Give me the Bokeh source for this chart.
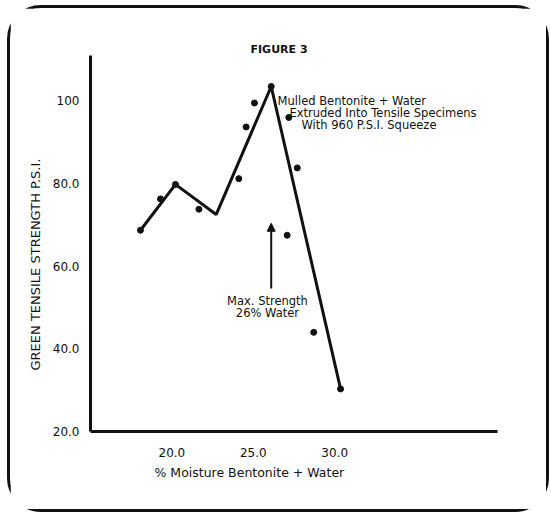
from bokeh.plotting import figure
from bokeh.models import Range1d, FixedTicker, Label, Arrow, NormalHead, Title
from bokeh.embed import file_html
from bokeh.resources import INLINE

# ---- data ----
line_x = [18.07, 20.22, 22.72, 26.10, 30.36]
line_y = [68.7, 79.8, 72.5, 103.5, 30.3]

point_x = [18.07, 19.30, 20.22, 21.66, 24.11, 24.56, 25.07, 26.10, 27.18, 27.08, 27.70, 28.71, 30.36]
point_y = [68.7, 76.3, 79.8, 73.8, 81.2, 93.7, 99.5, 103.5, 96.0, 67.5, 83.8, 44.0, 30.3]

x_ticks = [20, 25, 30]
x_tick_labels = ["20.0", "25.0", "30.0"]
y_ticks = [20, 40, 60, 80, 100]
y_tick_labels = ["20.0", "40.0", "60.0", "80.0", "100"]

title_text = "FIGURE 3"
x_label = "% Moisture Bentonite + Water"
y_label = "GREEN TENSILE STRENGTH P.S.I."
note_lines = ["Mulled Bentonite + Water", "Extruded Into Tensile Specimens", "With 960 P.S.I. Squeeze"]
max_lines = ["Max. Strength", "26% Water"]

FONT = "DejaVu Sans"
INK = "#111111"

p = figure(width=542, height=507,
           x_range=Range1d(15, 40), y_range=Range1d(20, 111),
           output_backend="svg", toolbar_location=None,
           min_border_left=80, min_border_right=55,
           min_border_top=47, min_border_bottom=84,
           styles={"position": "absolute", "left": "7px", "top": "5px",
                   "border": "3px solid #111", "border-radius": "34px"})
p.outline_line_color = None
p.xgrid.visible = False
p.ygrid.visible = False
p.background_fill_color = "white"
p.border_fill_color = "white"

p.title.text = title_text
p.title.align = "left"
p.title.offset = 160
p.title.standoff = -1
p.title.text_font = FONT
p.title.text_font_size = "11px"
p.title.text_font_style = "bold"
p.title.text_color = INK

for ax in (p.xaxis[0], p.yaxis[0]):
    ax.axis_line_width = 3
    ax.axis_line_color = INK
    ax.major_tick_line_color = None
    ax.minor_tick_line_color = None
    ax.major_label_text_font = FONT
    ax.major_label_text_font_size = "12px"
    ax.major_label_text_color = INK

p.xaxis.ticker = FixedTicker(ticks=x_ticks)
p.xaxis.major_label_overrides = {t: l for t, l in zip(x_ticks, x_tick_labels)}
p.xaxis.major_label_standoff = 10
p.yaxis.ticker = FixedTicker(ticks=y_ticks)
p.yaxis.major_label_overrides = {t: l for t, l in zip(y_ticks, y_tick_labels)}
p.yaxis.major_label_standoff = 5

p.add_layout(Title(text=x_label, align="left", offset=64, standoff=6,
                   text_font=FONT, text_font_size="12.5px", text_font_style="normal",
                   text_color=INK), "below")
p.add_layout(Title(text=y_label, align="left", offset=61, standoff=13,
                   text_font=FONT, text_font_size="13px", text_font_style="normal",
                   text_color=INK), "left")

p.line(line_x, line_y, line_width=3, line_color=INK)
p.scatter(point_x, point_y, size=6, fill_color=INK, line_color=INK)

note_x = [26.49, 27.22, 27.96]
note_y = [100.1, 97.2, 94.3]
for t, xx, yy in zip(note_lines, note_x, note_y):
    p.add_layout(Label(x=xx, y=yy, text=t, text_font=FONT, text_font_size="11.5px",
                       text_align="left", text_baseline="middle", text_color=INK))

for t, yy in zip(max_lines, [51.7, 48.6]):
    p.add_layout(Label(x=25.87, y=yy, text=t, text_font=FONT, text_font_size="11.5px",
                       text_align="center", text_baseline="middle", text_color=INK))

p.add_layout(Arrow(end=NormalHead(size=8, fill_color=INK, line_color=INK),
                   x_start=26.1, y_start=54.6, x_end=26.1, y_end=70.4,
                   line_width=2, line_color=INK))

open("out.html", "w").write(file_html(p, INLINE))
